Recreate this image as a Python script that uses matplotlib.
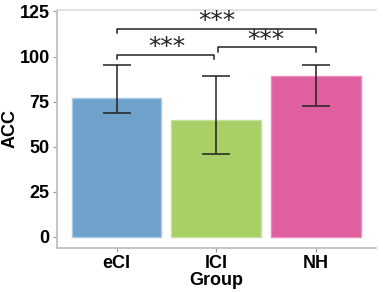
import matplotlib.pyplot as plt

# Data
groups = ['eCI', 'lCI', 'NH']
acc_mean = [77.0, 65.0, 89.2]
acc_low = [68.7, 45.8, 72.4]
acc_high = [95.5, 89.1, 95.5]
bar_colors = ['#6FA1CA', '#A8D066', '#DF5F9F']
edge_colors = ['#A9C8E6', '#C5E39A', '#EC8CBD']

# significance brackets: (left group, right group, height, label)
comparisons = [(0, 1, 101.0, '***'), (1, 2, 105.0, '***'), (0, 2, 115.4, '***')]

plt.rcParams['font.family'] = ['Liberation Sans', 'DejaVu Sans']

fig = plt.figure(figsize=(3.83, 2.92), dpi=100)
ax = fig.add_axes([0.148, 0.152, 0.834, 0.815])

x = list(range(len(groups)))
ax.bar(x, acc_mean, width=0.9, color=bar_colors, edgecolor=edge_colors, linewidth=1.0, zorder=2)

err_low = [m - lo for m, lo in zip(acc_mean, acc_low)]
err_high = [hi - m for m, hi in zip(acc_mean, acc_high)]
ax.errorbar(x, acc_mean, yerr=[err_low, err_high], fmt='none', ecolor='#222222',
            elinewidth=1.1, capsize=10, capthick=1.1, zorder=3)

# brackets
for i, j, h, lab in comparisons:
    xi = x[i] + (0.02 if i == 1 else 0)
    xj = x[j] - (0.02 if j == 1 else 0)
    ax.plot([xi, xi, xj, xj], [h - 2.5, h, h, h - 2.5], color='#222222', lw=1.1, zorder=3)
    ax.text((x[i] + x[j]) / 2, h + 0.5, lab, ha='center', va='baseline', fontsize=18,
            family='DejaVu Sans', color='#222222')

ax.set_xlim(-0.6, 2.6)
ax.set_ylim(-6, 126)
ax.set_xticks(x)
ax.set_xticklabels(groups)
ax.set_yticks([0, 25, 50, 75, 100, 125])

for lab in ax.get_xticklabels() + ax.get_yticklabels():
    lab.set_fontweight('bold')
    lab.set_fontsize(13)
ax.tick_params(axis='both', length=3, width=0.8, color='#999999', pad=2)

ax.set_xlabel('Group', fontsize=13, fontweight='bold', labelpad=0)
ax.set_ylabel('ACC', fontsize=13, fontweight='bold', labelpad=1)

for side in ['left', 'bottom']:
    ax.spines[side].set_color('#BBBBBB')
    ax.spines[side].set_linewidth(1.2)
ax.spines['top'].set_color('#DDDDDD')
ax.spines['top'].set_linewidth(1.2)
ax.spines['right'].set_visible(False)

fig.savefig('out.png', dpi=100)
